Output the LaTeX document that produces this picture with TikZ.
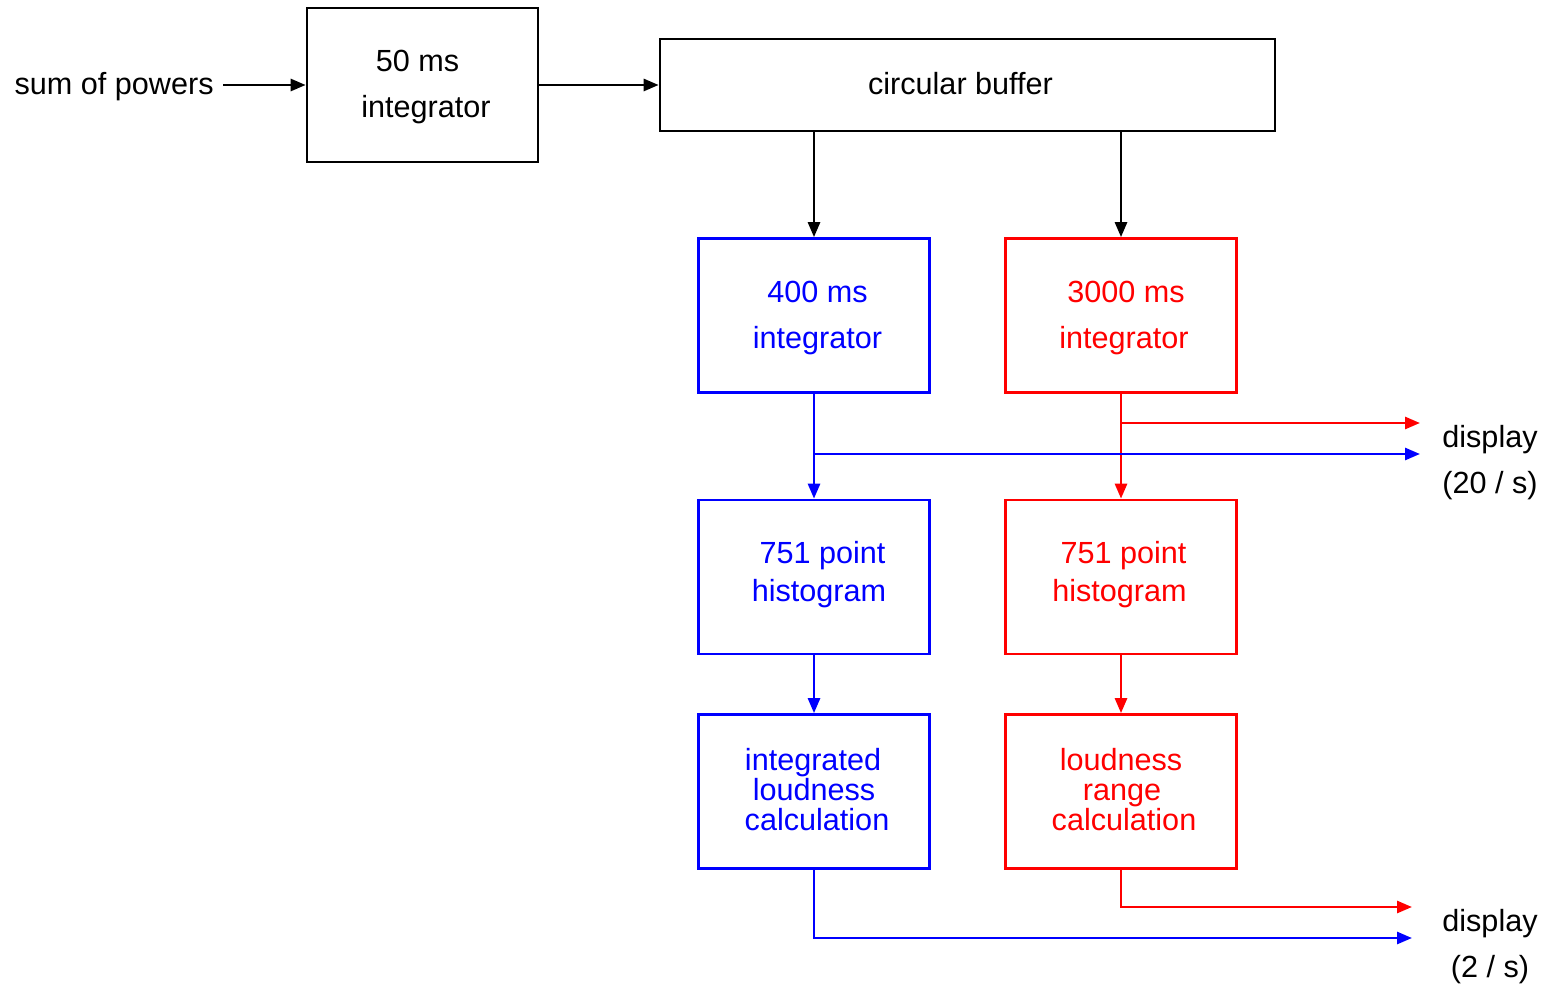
\documentclass[tikz,border=0pt]{standalone}
\usepackage{fontspec}
\setmainfont{Liberation Sans}
\usetikzlibrary{arrows.meta}
\definecolor{myblue}{RGB}{0,0,255}
\definecolor{myred}{RGB}{255,0,0}
\newcommand{\sh}[2]{\makebox[0pt]{\kern#1pt\relax #2}}
\begin{document}
\begin{tikzpicture}[x=0.5pt,y=-0.5pt,
  txt/.style={font=\fontsize{15.3}{23}\selectfont, align=center, inner sep=0pt},
  blk/.style={draw, line width=1.35pt, minimum width=115.5pt, minimum height=77pt, inner sep=0pt},
  arr/.style={line width=1.35pt, -{Triangle[length=7.5pt,width=6pt]}}]
\useasboundingbox (0,0) rectangle (1547,984);
% boxes
\node[blk] (i50) at (422.5,85) {};
\node[blk, minimum width=307.5pt, minimum height=46pt] (buf) at (967.5,85) {};
\node[blk, draw=myblue] (b1) at (814,315.5) {};
\node[blk, draw=myred] (r1) at (1121,315.5) {};
\node[blk, draw=myblue] (b2) at (814,577) {};
\node[blk, draw=myred] (r2) at (1121,577) {};
\node[blk, draw=myblue] (b3) at (814,791.5) {};
\node[blk, draw=myred] (r3) at (1121,791.5) {};
% texts
\node[txt, anchor=east] (sum) at (214,87) {sum of powers};
\node[txt] (i50t) at (422.5,86.5) {\sh{-5}{50 ms}\\\sh{3.5}{integrator}};
\node[txt] (buft) at (967.5,84) {\sh{-7}{circular buffer}};
\node[txt, text=myblue] (b1t) at (814,317.5) {\sh{3.5}{400 ms}\\\sh{3.5}{integrator}};
\node[txt, text=myred] (r1t) at (1121,317.5) {\sh{5}{3000 ms}\\\sh{3}{integrator}};
\node[txt, text=myblue, font=\fontsize{15.3}{19}\selectfont] (b2t) at (814,574.5) {\sh{8.5}{751 point}\\\sh{5}{histogram}};
\node[txt, text=myred, font=\fontsize{15.3}{19}\selectfont] (r2t) at (1121,574.5) {\sh{2.5}{751 point}\\\sh{-1.5}{histogram}};
\node[txt, text=myblue, font=\fontsize{15.3}{15}\selectfont] (b3t) at (814,790) {\sh{-1}{integrated}\\\sh{0}{loudness}\\\sh{3}{calculation}};
\node[txt, text=myred, font=\fontsize{15.3}{15}\selectfont] (r3t) at (1121,790) {\sh{0}{loudness}\\\sh{1}{range}\\\sh{3}{calculation}};
\node[txt] (d1) at (1490,463) {display\\(20 / s)};
\node[txt] (d2) at (1490,947) {display\\(2 / s)};
% coordinates
\coordinate (d1r) at (1420,423);
\coordinate (d1b) at (1420,454);
\coordinate (d2r) at (1412,907);
\coordinate (d2b) at (1412,938);
\coordinate (sumend) at (223,85);
% black connectors
\draw[arr] (sumend) -- (i50.west);
\draw[arr] (i50.east) -- (buf.west);
\draw[arr] (buf.south -| b1.north) -- (b1.north);
\draw[arr] (buf.south -| r1.north) -- (r1.north);
% red
\draw[arr, myred] (r1.south) -- (r2.north);
\draw[arr, myred] (r1.south |- d1r) -- (d1r);
\draw[arr, myred] (r2.south) -- (r3.north);
\draw[arr, myred] (r3.south) |- (d2r);
% blue
\draw[arr, myblue] (b1.south) -- (b2.north);
\draw[arr, myblue] (b1.south |- d1b) -- (d1b);
\draw[arr, myblue] (b2.south) -- (b3.north);
\draw[arr, myblue] (b3.south) |- (d2b);
\end{tikzpicture}
\end{document}
